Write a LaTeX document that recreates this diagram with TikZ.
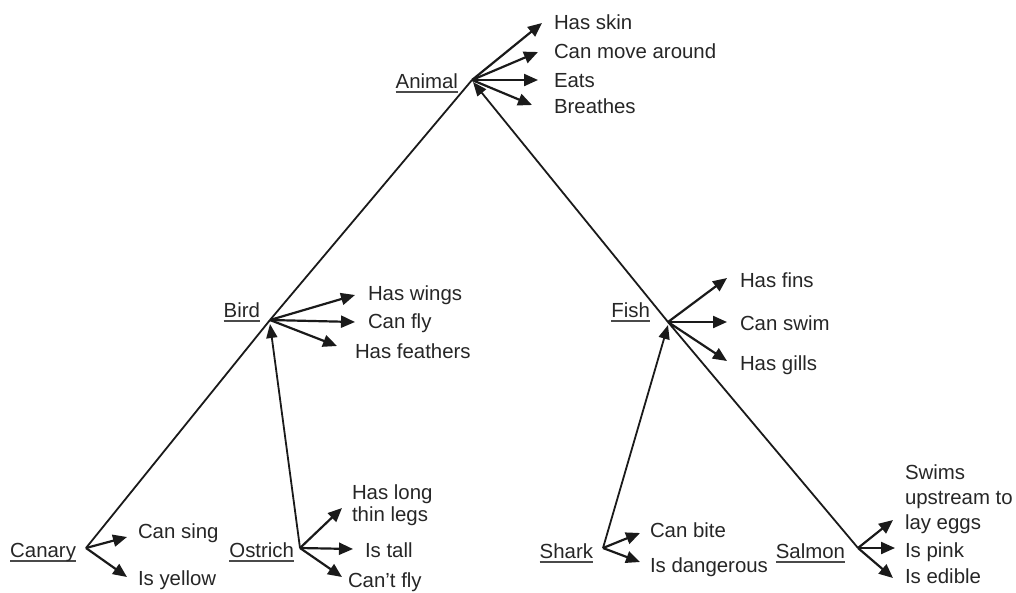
\documentclass[tikz,border=0pt]{standalone}
\usepackage{fontspec}
\setmainfont{Liberation Sans}
\usetikzlibrary{arrows.meta}
\definecolor{ink}{HTML}{1A1A1A}
\definecolor{txt}{HTML}{262626}
\definecolor{uline}{HTML}{4A4A4A}
\newcommand\ulab[1]{\setbox0\hbox{#1}\rlap{\color{uline}\vrule height -3pt depth 4.8pt width \wd0}\box0}
\begin{document}
\begin{tikzpicture}[x=1pt,y=-1pt,
  every node/.style={font=\fontsize{20.4}{25}\selectfont, text=txt, inner sep=0pt, outer sep=0pt},
  prop/.style={anchor=base west},
  mprop/.style={anchor=west, align=left},
  lab/.style={anchor=base east},
  link/.style={draw=ink, line width=1.8pt},
  isa/.style={link, -{Triangle[length=14pt,width=11pt]}},
  has/.style={draw=ink, line width=2.2pt, -{Triangle[length=14pt,width=12pt]}}]
\useasboundingbox (0,0) rectangle (1016,592);

% hubs
\coordinate (animal) at (472,80);
\coordinate (bird) at (270,320);
\coordinate (fish) at (668,322);
\coordinate (canary) at (86,548);
\coordinate (ostrich) at (300,548);
\coordinate (shark) at (603,548);
\coordinate (salmon) at (858,548);

% labels
\node[lab] (lAnimal) at (458,88) {\ulab{Animal}};
\node[lab] (lBird) at (260,317) {\ulab{Bird}};
\node[lab] (lFish) at (650,317) {\ulab{Fish}};
\node[lab] (lCanary) at (76,557) {\ulab{Canary}};
\node[lab] (lOstrich) at (294,557) {\ulab{Ostrich}};
\node[lab] (lShark) at (593,558) {\ulab{Shark}};
\node[lab] (lSalmon) at (845,558) {\ulab{Salmon}};

% properties
\node[prop] (skin) at (554,29) {Has skin};
\node[prop] (move) at (554,58) {Can move around};
\node[prop] (eats) at (554,87) {Eats};
\node[prop] (breathes) at (554,113) {Breathes};
\node[prop] (wings) at (368,300) {Has wings};
\node[prop] (canfly) at (368,328) {Can fly};
\node[prop] (feathers) at (355,358) {Has feathers};
\node[prop] (fins) at (740,287) {Has fins};
\node[prop] (swim) at (740,330) {Can swim};
\node[prop] (gills) at (740,370) {Has gills};
\node[prop] (sing) at (138,538) {Can sing};
\node[prop] (yellow) at (138,585) {Is yellow};
\node[mprop, font=\fontsize{20.4}{22}\selectfont] (legs) at (352,505.5) {Has long\\thin legs};
\node[prop] (tall) at (365,557) {Is tall};
\node[prop] (cantfly) at (348,587) {Can't fly};
\node[prop] (bite) at (650,537) {Can bite};
\node[prop] (danger) at (650,572) {Is dangerous};
\node[mprop] (swims) at (905,499.5) {Swims\\upstream to\\lay eggs};
\node[prop] (pink) at (905,557) {Is pink};
\node[prop] (edible) at (905,583) {Is edible};

% hierarchy links
\draw[link] (canary) -- (bird);
\draw[link] (bird) -- (animal);
\draw[link] (salmon) -- (fish);
\draw[isa] (fish) -- ([shift={(1,2)}]animal);
\draw[isa] (ostrich) -- ([shift={(0,4)}]bird);
\draw[isa] (shark) -- ([shift={(0,3)}]fish);

% property arrows
\draw[has] (animal) -- ([shift={(-12,-6)}]skin.base west);
\draw[has] (animal) -- ([shift={(-16,-6)}]move.base west);
\draw[has] (animal) -- ([shift={(-16,-7)}]eats.base west);
\draw[has] (animal) -- ([shift={(-22,-8)}]breathes.base west);
\draw[has] (bird) -- ([shift={(-13,-5)}]wings.base west);
\draw[has] (bird) -- ([shift={(-13,-6)}]canfly.base west);
\draw[has] (bird) -- ([shift={(-18,-12)}]feathers.base west);
\draw[has] (fish) -- ([shift={(-13,-9)}]fins.base west);
\draw[has] (fish) -- ([shift={(-13,-8)}]swim.base west);
\draw[has] (fish) -- ([shift={(-13,-9)}]gills.base west);
\draw[has] (canary) -- ([shift={(-11,-1)}]sing.base west);
\draw[has] (canary) -- ([shift={(-11,-8)}]yellow.base west);
\draw[has] (ostrich) -- ([shift={(-10,2.5)}]legs.west);
\draw[has] (ostrich) -- ([shift={(-12,-8)}]tall.base west);
\draw[has] (ostrich) -- ([shift={(-6,-10)}]cantfly.base west);
\draw[has] (shark) -- ([shift={(-10,-4)}]bite.base west);
\draw[has] (shark) -- ([shift={(-10,-10)}]danger.base west);
\draw[has] (salmon) -- ([shift={(-12,20.5)}]swims.west);
\draw[has] (salmon) -- ([shift={(-10,-9)}]pink.base west);
\draw[has] (salmon) -- ([shift={(-12,-5)}]edible.base west);
\end{tikzpicture}
\end{document}
